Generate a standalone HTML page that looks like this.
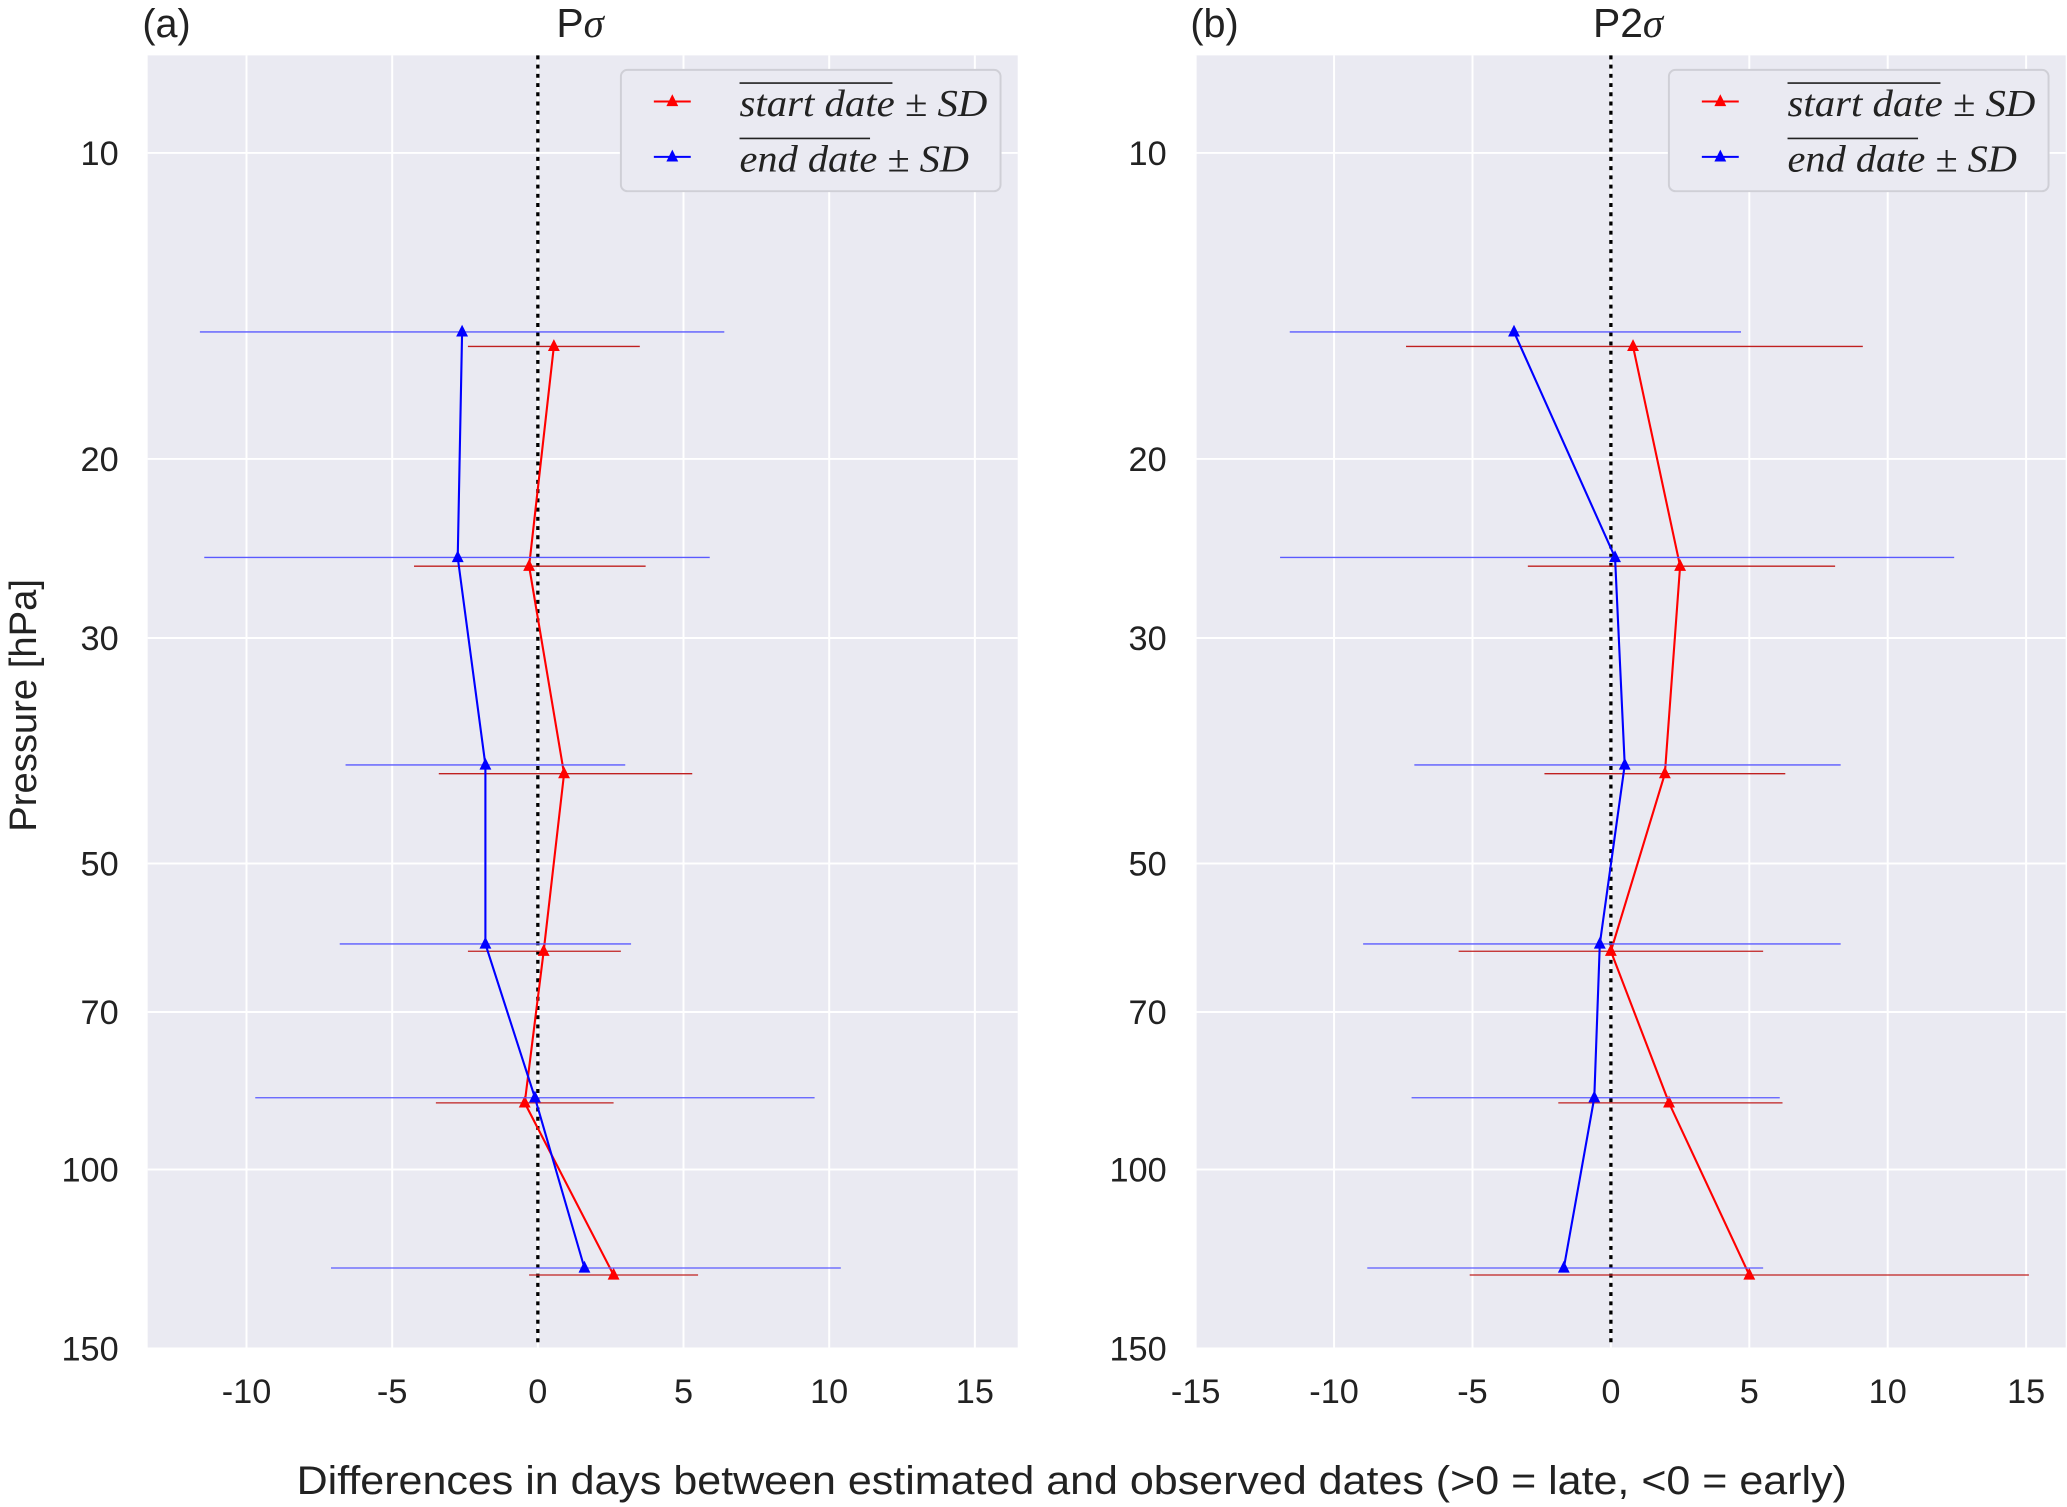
<!DOCTYPE html>
<html><head><meta charset="utf-8"><style>
html,body{margin:0;padding:0;background:#fff}
svg{display:block}
text{font-family:"Liberation Sans",sans-serif;fill:#222}
.lg{font-family:"Liberation Serif",serif;font-style:italic;font-size:29px}
</style></head><body>
<svg id="fig" width="2067" height="1507" viewBox="0 0 1568 1143" preserveAspectRatio="none" xmlns="http://www.w3.org/2000/svg">
<g id="root"></g>
<text x="18" y="535" transform="rotate(-90 18 535)" text-anchor="middle" dominant-baseline="central" font-size="29">Pressure [hPa]</text>
<text x="225" y="1133" textLength="1176" lengthAdjust="spacingAndGlyphs" font-size="30">Differences in days between estimated and observed dates (&gt;0 = late, &lt;0 = early)</text>
</svg>
<script>
// Pressure levels (hPa)
const pBlue=[15,25,40,60,85,125];
const pRed=[15.5,25.5,40.8,61,86,127];
// Panel (a)
const aBlueMean=[-2.6,-2.75,-1.8,-1.8,-0.1,1.6];
const aBlueLo=[-11.6,-11.45,-6.6,-6.8,-9.7,-7.1];
const aBlueHi=[6.4,5.9,3.0,3.2,9.5,10.4];
const aRedMean=[0.55,-0.3,0.9,0.2,-0.45,2.6];
const aRedLo=[-2.4,-4.25,-3.4,-2.4,-3.5,-0.3];
const aRedHi=[3.5,3.7,5.3,2.85,2.6,5.5];
// Panel (b)
const bBlueMean=[-3.5,0.15,0.5,-0.4,-0.6,-1.7];
const bBlueLo=[-11.6,-11.95,-7.1,-8.95,-7.2,-8.8];
const bBlueHi=[4.7,12.4,8.3,8.3,6.1,5.5];
const bRedMean=[0.8,2.5,1.95,0,2.1,5.0];
const bRedLo=[-7.4,-3.0,-2.4,-5.5,-1.9,-5.1];
const bRedHi=[9.1,8.1,6.3,5.5,6.2,15.1];
const yTicks=[10,20,30,50,70,100,150];
const aXTicks=[-10,-5,0,5,10,15];
const bXTicks=[-15,-10,-5,0,5,10,15];

const NS="http://www.w3.org/2000/svg";
const root=document.getElementById('root');
function el(t,a,p){const e=document.createElementNS(NS,t);for(const k in a)e.setAttribute(k,a[k]);(p||root).appendChild(e);return e;}
const Y0=42,Y1=1022;
function yS(p){return 116+771*Math.log10(p/10);}

function panel(cfg){
  const g=el('g',{});
  
  
  const xS=v=>cfg.x0+cfg.k*v;
  const bg=el('rect',{x:cfg.L,y:Y0,width:cfg.R-cfg.L,height:Y1-Y0,fill:'#eaeaf2'},g);
  
  
  cfg.xt.forEach(v=>{
    el('line',{x1:xS(v),x2:xS(v),y1:Y0,y2:Y1,stroke:'#fff','stroke-width':1.5},g);
    const t=el('text',{x:xS(v),y:1064,'text-anchor':'middle','font-size':26},g);
    t.textContent=v;
    
    
  });
  yTicks.forEach(v=>{
    el('line',{x1:cfg.L,x2:cfg.R,y1:yS(v),y2:yS(v),stroke:'#fff','stroke-width':1.5},g);
    const t=el('text',{x:cfg.L-22,y:yS(v)+9,'text-anchor':'end','font-size':26},g);
    t.textContent=v;
    
    
  });
  const z=el('line',{x1:xS(0),x2:xS(0),y1:Y0,y2:Y1,stroke:'#000','stroke-width':2.5,'stroke-dasharray':'3,4'},g);
  
  
  function series(p,m,lo,hi,col,ecol,name){
    const sg=el('g',{},g);
    
    
    p.forEach((pp,i)=>{
      const e=el('line',{x1:xS(lo[i]),x2:xS(hi[i]),y1:yS(pp),y2:yS(pp),stroke:ecol,'stroke-width':1},sg);
      
      
    });
    const pts=p.map((pp,i)=>xS(m[i])+','+yS(pp)).join(' ');
    const pl=el('polyline',{points:pts,fill:'none',stroke:col,'stroke-width':1.6},sg);
    
    
    p.forEach((pp,i)=>{
      const x=xS(m[i]),y=yS(pp);
      const tr=el('polygon',{points:`${x},${y-5.5} ${x-4.5},${y+3.5} ${x+4.5},${y+3.5}`,fill:col},sg);
      
      
    });
  }
  series(pRed,cfg.rm,cfg.rl,cfg.rh,'#ff0000','#c02020','start-date-series');
  series(pBlue,cfg.bm,cfg.bl,cfg.bh,'#0000ff','#5a5aff','end-date-series');
  const lx=cfg.legX;
  const lg=el('g',{},g);
  
  
  el('rect',{x:lx,y:53,width:288,height:92,rx:5,fill:'#eaeaf2',stroke:'#cfcfd6','stroke-width':1.5},lg);
  [['#ff0000',77,'start date',116,188],['#0000ff',119,'end date',99,174]].forEach(([c,y,lab,w,tl])=>{
    el('line',{x1:lx+25,x2:lx+53,y1:y,y2:y,stroke:c,'stroke-width':1.5},lg);
    el('polygon',{points:`${lx+39},${y-5.5} ${lx+34.5},${y+3.5} ${lx+43.5},${y+3.5}`,fill:c},lg);
    const t=el('text',{x:lx+90,y:y+11,class:'lg',textLength:tl,lengthAdjust:'spacingAndGlyphs'},lg);
    t.textContent=lab+' \u00b1 SD';
    
    
    el('line',{x1:lx+90,x2:lx+90+w,y1:y-14,y2:y-14,stroke:'#222','stroke-width':1.3},lg);
  });
  const ti=el('text',{x:cfg.titleX,y:28,'text-anchor':'middle','font-size':31},g);
  ti.innerHTML=cfg.title+'<tspan font-family="Liberation Serif, serif" font-style="italic">\u03c3</tspan>';
  
  
  const lb=el('text',{x:cfg.labX,y:28,'font-size':30},g);
  lb.textContent=cfg.lab;
  
  
}
panel({name:'panel-a',L:112,R:772,x0:408,k:22.1,xt:aXTicks,bm:aBlueMean,bl:aBlueLo,bh:aBlueHi,rm:aRedMean,rl:aRedLo,rh:aRedHi,legX:471,title:'P',titleX:440,lab:'(a)',labX:108});
panel({name:'panel-b',L:907,R:1567,x0:1222,k:21,xt:bXTicks,bm:bBlueMean,bl:bBlueLo,bh:bBlueHi,rm:bRedMean,rl:bRedLo,rh:bRedHi,legX:1266,title:'P2',titleX:1235,lab:'(b)',labX:903});
</script>
</body></html>
